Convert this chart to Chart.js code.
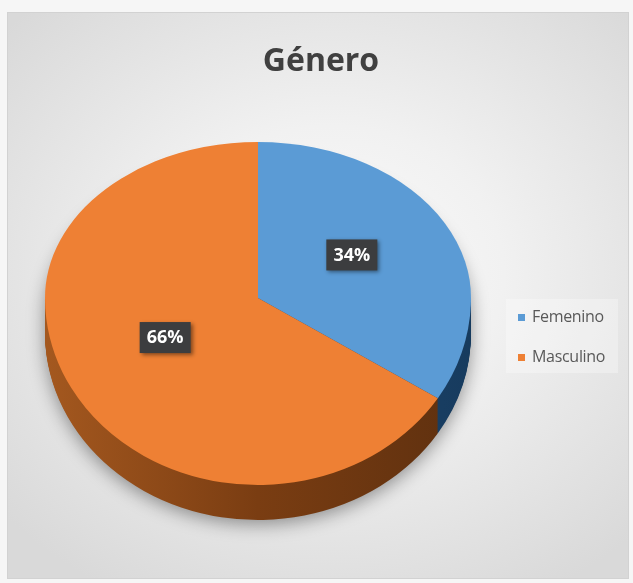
<!DOCTYPE html>
<html>
<head>
<meta charset="utf-8">
<script src="https://cdn.jsdelivr.net/npm/chart.js@4.4.1/dist/chart.umd.min.js"></script>
<style>
    body { margin: 0; background: #f6f6f6; width: 633px; height: 583px; overflow: hidden; position: relative; }
    #frame {
        position: absolute; left: 7px; top: 12px; width: 620px; height: 565px;
        border: 1px solid #d2d2d2;
        background: radial-gradient(ellipse 70% 65% at 52% 46%, #fbfbfb 0%, #f1f1f1 40%, #d9d9d9 100%);
    }
    #gender-chart { position: absolute; left: 0; top: 0; }
    #chart-title {
        position: absolute; left: 221px; top: 38px; width: 200px; text-align: center;
        font: bold 32px "Open Sans", sans-serif; line-height: 42px; color: #404040;
    }
    #chart-legend {
        position: absolute; left: 506px; top: 299px; width: 112px; height: 74px;
        background: rgba(255, 255, 255, 0.3);
        font: 16px "Open Sans", sans-serif; color: #595959;
    }
    .legend-item { position: absolute; left: 12px; height: 20px; line-height: 20px; white-space: nowrap; letter-spacing: -0.3px; }
    .legend-box { display: inline-block; width: 7px; height: 7px; margin-right: 7px; vertical-align: 1px; }
</style>
</head>
<body>
<div id="frame"></div>
<canvas id="gender-chart" width="633" height="583"></canvas>
<div id="chart-title">Género</div>
<div id="chart-legend"></div>
<script>
// ==============================
// Data
// ==============================
const genderLabels = ["Femenino", "Masculino"];
const genderValues = [34, 66];
const sliceColors = ["#5B9BD5", "#EE8034"];
const sideColors = [["#1E4A75", "#1E4A75", "#173b5e"], ["#a4581f", "#7a3d12", "#5e300f"]];

// ==============================
// 3D look
// ==============================
const pivotY = 298;        // where the vertex of the pie sits on screen
const topSquash = 0.732;   // far half is flatter than the near half
const bottomSquash = 0.878;
const pieDepth = 35;
const labelLift = 6;

function squash(ctx, arc, factor, shift) {
    ctx.translate(0, pivotY + shift);
    ctx.scale(1, factor);
    ctx.translate(0, -arc.y);
}

function sideFill(ctx, arc, stops) {
    const g = ctx.createLinearGradient(arc.x - arc.outerRadius, 0, arc.x + arc.outerRadius, 0);
    g.addColorStop(0, stops[0]);
    g.addColorStop(0.5, stops[1]);
    g.addColorStop(1, stops[2]);
    return g;
}

const pie3d = {
    id: "pie3d",
    beforeDatasetsDraw(chart) {
        const ctx = chart.ctx;
        const arcs = chart.getDatasetMeta(0).data;
        const w = chart.width, h = chart.height;
        const a0 = arcs[0];

        // soft shadow of the whole pie (shape drawn off canvas, only its shadow lands)
        ctx.save();
        ctx.shadowColor = "rgba(0,0,0,0.4)";
        ctx.shadowBlur = 18;
        ctx.shadowOffsetX = 2000;
        ctx.shadowOffsetY = 4;
        ctx.fillStyle = "#000";
        ctx.beginPath();
        ctx.ellipse(a0.x - 2000, pivotY + pieDepth, a0.outerRadius, a0.outerRadius * bottomSquash, 0, 0, Math.PI);
        ctx.ellipse(a0.x - 2000, pivotY + pieDepth * 0.4, a0.outerRadius, a0.outerRadius * topSquash, 0, Math.PI, 2 * Math.PI);
        ctx.closePath();
        ctx.fill();
        ctx.restore();

        // side wall, bottom layer first
        for (let d = pieDepth; d >= 1; d--) {
            ctx.save();
            ctx.beginPath();
            ctx.rect(0, pivotY, w, h - pivotY);
            ctx.clip();
            squash(ctx, a0, bottomSquash, d);
            arcs.forEach(function (arc, i) {
                ctx.beginPath();
                ctx.moveTo(arc.x, arc.y);
                ctx.arc(arc.x, arc.y, arc.outerRadius, arc.startAngle, arc.endAngle);
                ctx.closePath();
                ctx.fillStyle = sideFill(ctx, arc, sideColors[i]);
                ctx.fill();
            });
            ctx.restore();
        }

        // top surface, far half then near half
        const halves = [[0, pivotY, topSquash], [pivotY, h, bottomSquash]];
        halves.forEach(function (half) {
            ctx.save();
            ctx.beginPath();
            ctx.rect(0, half[0], w, half[1] - half[0]);
            ctx.clip();
            squash(ctx, a0, half[2], 0);
            arcs.forEach(function (arc) { arc.draw(ctx); });
            ctx.restore();
        });
        return false;
    },
    afterDraw(chart) {
        const ctx = chart.ctx;
        const arcs = chart.getDatasetMeta(0).data;
        const total = genderValues.reduce(function (a, b) { return a + b; }, 0);
        ctx.save();
        ctx.font = "bold 18px 'Open Sans', sans-serif";
        ctx.textAlign = "center";
        ctx.textBaseline = "middle";
        arcs.forEach(function (arc, i) {
            const p = arc.tooltipPosition();
            const dy = p.y - arc.y;
            const y = pivotY + dy * (dy < 0 ? topSquash : bottomSquash) - labelLift;
            const text = Math.round(genderValues[i] / total * 100) + "%";
            ctx.shadowColor = "rgba(0,0,0,0.45)";
            ctx.shadowBlur = 4;
            ctx.shadowOffsetX = 2;
            ctx.shadowOffsetY = 2;
            ctx.fillStyle = "#3c3d3f";
            ctx.fillRect(p.x - 25, y - 15, 51, 31);
            ctx.shadowColor = "transparent";
            ctx.fillStyle = "#ffffff";
            ctx.fillText(text, p.x + 0.5, y + 1);
        });
        ctx.restore();
    }
};

// ==============================
// Create Chart
// ==============================
const genderChart = new Chart(document.getElementById("gender-chart"), {
    type: "pie",
    data: {
        labels: genderLabels,
        datasets: [{
            data: genderValues,
            backgroundColor: sliceColors,
            borderWidth: 0,
            hoverOffset: 0,
            offset: 0,
            clip: false
        }]
    },
    options: {
        responsive: false,
        animation: false,
        events: [],
        layout: { padding: { left: 45, right: 162, top: 100, bottom: 57 } },
        plugins: {
            legend: { display: false },
            title: { display: false },
            tooltip: { enabled: false }
        }
    },
    plugins: [pie3d]
});

// ==============================
// Legend
// ==============================
const legendEl = document.getElementById("chart-legend");
genderLabels.forEach(function (label, i) {
    const item = document.createElement("div");
    item.className = "legend-item";
    item.style.top = (7 + i * 40) + "px";
    item.innerHTML = '<span class="legend-box" style="background:' + sliceColors[i] + '"></span>' + label;
    legendEl.appendChild(item);
});
</script>
</body>
</html>
